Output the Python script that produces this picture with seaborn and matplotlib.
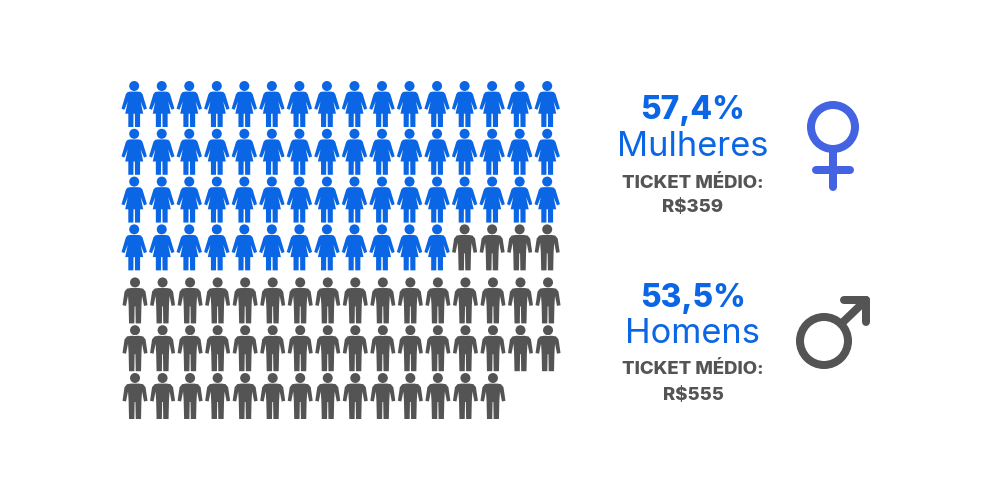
import pandas as pd
import seaborn as sns
import matplotlib.pyplot as plt
from matplotlib.path import Path
from matplotlib.patches import Circle

# icones por linha (cada linha tem 16 colunas)
mulheres_por_linha = [16, 16, 16, 12]
homens_por_linha = [4, 16, 16, 14]

percentuais = ["57,4%", "53,5%"]
generos = ["Mulheres", "Homens"]
ticket_label = "TICKET MÉDIO:"
tickets = ["R$359", "R$555"]

AZUL = "#0A66E4"
CINZA = "#545454"
AZUL_ICONE = "#4463E3"
FONTE = "Inter"
GAP = 0.11  # espaco entre os blocos de linhas
DESLOC = 0.03  # bloco de homens um pouco a direita


def pessoa(corpo):
    # coordenadas em pixels, centro da figura em (0, 0)
    cabeca = Path.circle((0, 18), 5)
    return Path.make_compound_path(cabeca, Path(corpo + [corpo[0]], closed=True))


# metade direita, de cima para baixo
lado_m = [(3.8, 12.4), (6.5, 12), (8.3, 10), (12.7, -4.6), (9.8, -5.8), (6.4, 2.5), (9, -9.7),
          (5.9, -9.7), (5.9, -23), (0.8, -23), (0.7, -9.7)]
lado_h = [(4.2, 12.4), (8, 11.8), (10.5, 8.8), (12.5, -4.8), (9, -5.5), (7, 4.5), (6.4, -5),
          (6, -23), (0.7, -23), (0.4, -6)]


def espelho(lado):
    return lado + [(-x, y) for x, y in reversed(lado)]


marcador_m = pessoa(espelho(lado_m))
marcador_h = pessoa(espelho(lado_h))

linhas = []
for i, n in enumerate(mulheres_por_linha):
    for c in range(n):
        linhas.append({"col": c, "linha": i, "genero": generos[0]})
for i, n in enumerate(homens_por_linha):
    inicio = 16 - n if i == 0 else 0
    for c in range(n):
        y = 3 if i == 0 else 3 + i + GAP
        x = inicio + c if i == 0 else inicio + c + DESLOC
        linhas.append({"col": x, "linha": y, "genero": generos[1]})
df = pd.DataFrame(linhas)

sns.set_style("white")
fig = plt.figure(figsize=(10, 5), dpi=100, facecolor="white")

# grade de pessoas
ax = fig.add_axes([0.1342, (500 - 396) / 500, 0.413, 292 / 500])
sns.scatterplot(data=df, x="col", y="linha", hue="genero", style="genero",
                hue_order=generos, style_order=generos,
                palette={generos[0]: AZUL, generos[1]: CINZA},
                markers={generos[0]: marcador_m, generos[1]: marcador_h},
                s=(46 * 0.72) ** 2, linewidth=0, legend=False, clip_on=False, ax=ax)
ax.set_xlim(0, 15)
ax.set_ylim(6 + GAP, 0)
ax.axis("off")

# camada em pixels para textos e simbolos
ov = fig.add_axes([0, 0, 1, 1])
ov.set_xlim(0, 1000)
ov.set_ylim(500, 0)
ov.axis("off")
ov.patch.set_alpha(0)

ys = [(110, 147, 183, 208), (298, 334, 370, 395)]
for k in range(2):
    y1, y2, y3, y4 = ys[k]
    ov.text(693, y1, percentuais[k], color=AZUL, family=FONTE, weight=800, fontsize=22.8,
            ha="center", va="center")
    ov.text(693, y2, generos[k], color=AZUL, family=FONTE, weight="normal", fontsize=24.8,
            ha="center", va="center")
    ov.text(693, y3, ticket_label, color=CINZA, family=FONTE, weight=800, fontsize=13.4,
            ha="center", va="center")
    ov.text(693, y4, tickets[k], color=CINZA, family=FONTE, weight=800, fontsize=13.4,
            ha="center", va="center")

LW = 8 * 0.72
# simbolo feminino
ov.add_patch(Circle((833, 127), 22, fill=False, ec=AZUL_ICONE, lw=LW))
ov.plot([833, 833], [149, 187], color=AZUL_ICONE, lw=LW, solid_capstyle="round")
ov.plot([816, 850], [170, 170], color=AZUL_ICONE, lw=LW, solid_capstyle="round")

# simbolo masculino
ov.add_patch(Circle((824, 341), 24, fill=False, ec=CINZA, lw=LW))
ov.plot([841, 866], [324, 300], color=CINZA, lw=LW, solid_capstyle="round")
ov.plot([844, 866, 866], [300, 300, 322], color=CINZA, lw=LW, solid_capstyle="round",
        solid_joinstyle="round")

fig.savefig("out.png", dpi=100, facecolor="white")
